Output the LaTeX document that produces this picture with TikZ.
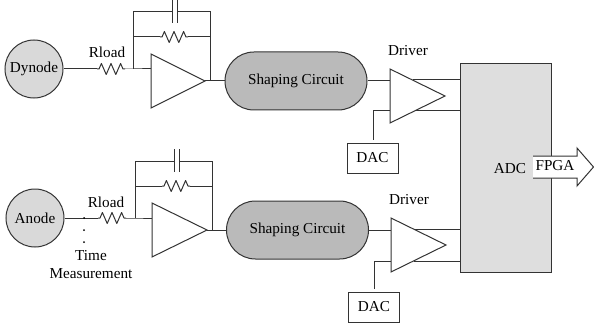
\documentclass[tikz,border=0pt]{standalone}
\usepackage{fontspec}
\setmainfont{Liberation Serif}
\definecolor{ln}{gray}{0.2}
\tikzset{
  x=1pt,y=-1pt,
  wire/.style={draw=ln,line width=1pt},
  tri/.style={draw=ln,line width=1pt,fill=white,line join=miter},
  pmt/.style={circle,draw=ln,line width=1pt,fill=black!15,minimum size=58pt,inner sep=0pt,font=\fontsize{15.2}{17}\selectfont},
  shaper/.style={rounded corners=28.9pt,draw=ln,line width=1pt,fill=black!27,minimum width=142pt,minimum height=58pt,inner sep=0pt,font=\fontsize{15.2}{17}\selectfont},
  dacbox/.style={draw=ln,line width=1pt,fill=white,minimum width=51pt,minimum height=30pt,inner sep=0pt,font=\fontsize{15.2}{17}\selectfont},
  adcbox/.style={draw=ln,line width=1pt,fill=black!13,minimum width=91pt,minimum height=208pt,inner sep=0pt},
  lbl/.style={inner sep=0pt,font=\fontsize{15.2}{17}\selectfont},
}
% resistor zigzag, 28 wide
\newcommand{\zigzag}[2]{\draw[wire,line join=round] (#1,#2) -- ++(2,0) -- ++(2.4,-5.5) -- ++(4.8,11) -- ++(4.8,-11) -- ++(4.8,11) -- ++(4.8,-11) -- ++(2.4,5.5) -- ++(2,0);}
\begin{document}
\begin{tikzpicture}
\useasboundingbox (0,0) rectangle (594,326);
% ===== ADC and arrow
\node[adcbox] (adc) at (505.5,168) {};
\node[lbl] (adct) at (510,168.5) {ADC};
\draw[draw=ln,line width=1pt,fill=white] (533,156) -- (577,156) -- (577,148) -- (593.5,167) -- (577,186) -- (577,178) -- (533,178);
\node[lbl] (fpga) at (555,166) {FPGA};
% ===== top channel
\node[pmt] (dyn) at (34,69) {Dynode};
\coordinate (r1a) at (97,69);
\coordinate (j1) at (133,69);
\coordinate (t1in) at (151,69);
\coordinate (t1out) at (205,81);
\coordinate (o1) at (210,81);
\node[lbl] (rl1) at (107,52) {Rload};
\draw[wire] (dyn) -- (r1a);
\zigzag{97}{69}
\draw[wire] (125,69) -- (j1) -- (t1in);
\draw[wire] (j1) -- (133,12) -- (172,12);
\draw[wire] (177,12) -- (210,12) -- (o1);
\draw[wire] (172,0) -- (172,23);
\draw[wire] (177,0) -- (177,23);
\draw[wire] (133,37) -- (160,37);
\zigzag{160}{37}
\draw[wire] (188,37) -- (210,37);
\draw[tri] (151,54) -- (151,108) -- (t1out) -- cycle;
\node[shaper] (sc1) at (296,81) {Shaping Circuit};
\draw[wire] (t1out) -- (sc1.west);
\node[lbl] (drv1) at (408,51) {Driver};
\draw[wire] (sc1.east) -- (390,81);
\draw[wire] (413,80) -- (adc.west |- 0,80);
\draw[wire] (413,111) -- (adc.west |- 0,111);
\draw[tri] (390,69) -- (390,123) -- (445,96) -- cycle;
\node[dacbox] (dac1) at (372.5,158) {DAC};
\draw[wire] (373,140) -- (373,111) -- (390,111);
% ===== bottom channel
\node[pmt] (ano) at (35,218) {Anode};
\coordinate (r2a) at (98,218);
\coordinate (j2) at (135,218);
\coordinate (t2in) at (152,218);
\coordinate (t2out) at (207,230);
\coordinate (o2) at (212,230);
\node[lbl] (rl2) at (106,202) {Rload};
\draw[wire] (ano) -- (r2a);
\zigzag{98}{218}
\draw[wire] (126,218) -- (j2) -- (t2in);
\draw[wire] (j2) -- (135,161) -- (174,161);
\draw[wire] (179,161) -- (212,161) -- (o2);
\draw[wire] (174,149) -- (174,172);
\draw[wire] (179,149) -- (179,172);
\draw[wire] (135,186) -- (162,186);
\zigzag{162}{186}
\draw[wire] (190,186) -- (212,186);
\draw[tri] (152,203) -- (152,257) -- (t2out) -- cycle;
\node[shaper] (sc2) at (297.5,230) {Shaping Circuit};
\draw[wire] (t2out) -- (sc2.west);
\node[lbl] (drv2) at (409,200) {Driver};
\draw[wire] (sc2.east) -- (391,230);
\draw[wire] (414,229) -- (adc.west |- 0,229);
\draw[wire] (414,261) -- (adc.west |- 0,261);
\draw[tri] (391,218) -- (391,272) -- (446,245) -- cycle;
\node[dacbox] (dac2) at (374,307) {DAC};
\draw[wire] (374,289) -- (374,261) -- (391,261);
% dots and time label
\fill[black] (84,218) circle (1pt) (84,230) circle (1pt) (84,242) circle (1pt);
\node[lbl] (tm1) at (91,256) {Time};
\node[lbl] (tm2) at (91,274) {Measurement};
\end{tikzpicture}
\end{document}
